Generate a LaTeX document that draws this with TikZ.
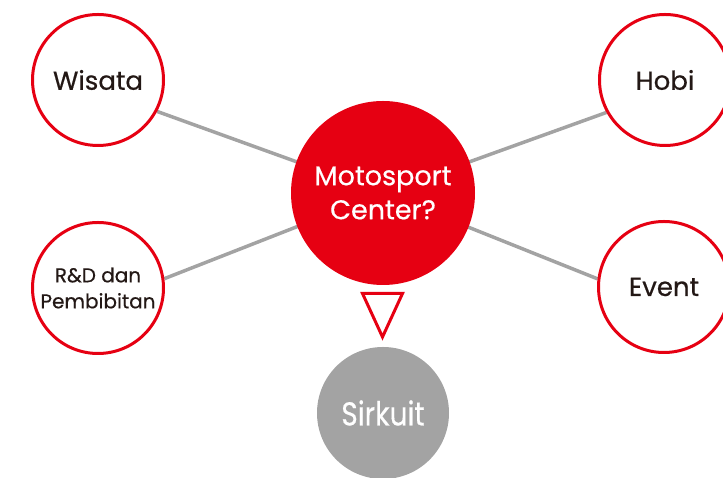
\documentclass[tikz,border=0pt]{standalone}
\usepackage{fontspec}
\setmainfont{Poppins}[FakeBold=0.5]
\usetikzlibrary{backgrounds}
\definecolor{motored}{HTML}{E60012}
\definecolor{linkgray}{HTML}{A3A3A3}
\definecolor{txtdark}{HTML}{231815}
\tikzset{
  topic/.style={circle, draw=motored, line width=3pt, fill=white,
    minimum size=131pt, inner sep=0pt, text=txtdark, align=center,
    font=\fontsize{26}{30}\selectfont},
  link/.style={draw=linkgray, line width=3.5pt},
}
\begin{document}
\begin{tikzpicture}[x=1pt,y=1pt]
  \useasboundingbox (0,0) rectangle (723,478);
  \coordinate (hub) at (383,285);
  % topics round the hub
  \node[topic] (wisata) at (98,398) {Wisata};
  \node[topic] (hobi) at (665,398) {Hobi};
  \node[topic, font=\fontsize{20}{26}\selectfont] (rnd) at (98,190) {R\&D dan\\Pembibitan};
  \node[topic] (event) at (664,191) {Event};
  \node[circle, fill=motored, minimum size=184pt, inner sep=0pt, text=white,
    align=center, font=\fontsize{27}{34}\selectfont] (main) at (hub) {Motosport\\Center?};
  \node[circle, fill=linkgray, minimum size=132pt, inner sep=0pt, text=white,
    font=\fontsize{33}{36}\selectfont] (sirkuit) at (383,65) {\scalebox{0.85}[1]{Sirkuit}};
  % pointer down to the track
  \draw[motored, line width=3pt, line join=miter] (362.5,184.5) -- (402.5,184.5) -- (382.5,141) -- cycle;
  \begin{scope}[on background layer]
    \draw[link] (hub) -- (wisata.-28);
    \draw[link] (hub) -- (hobi.209);
    \draw[link] (hub) -- (rnd.8);
    \draw[link] (hub) -- (event.173);
  \end{scope}
\end{tikzpicture}
\end{document}
